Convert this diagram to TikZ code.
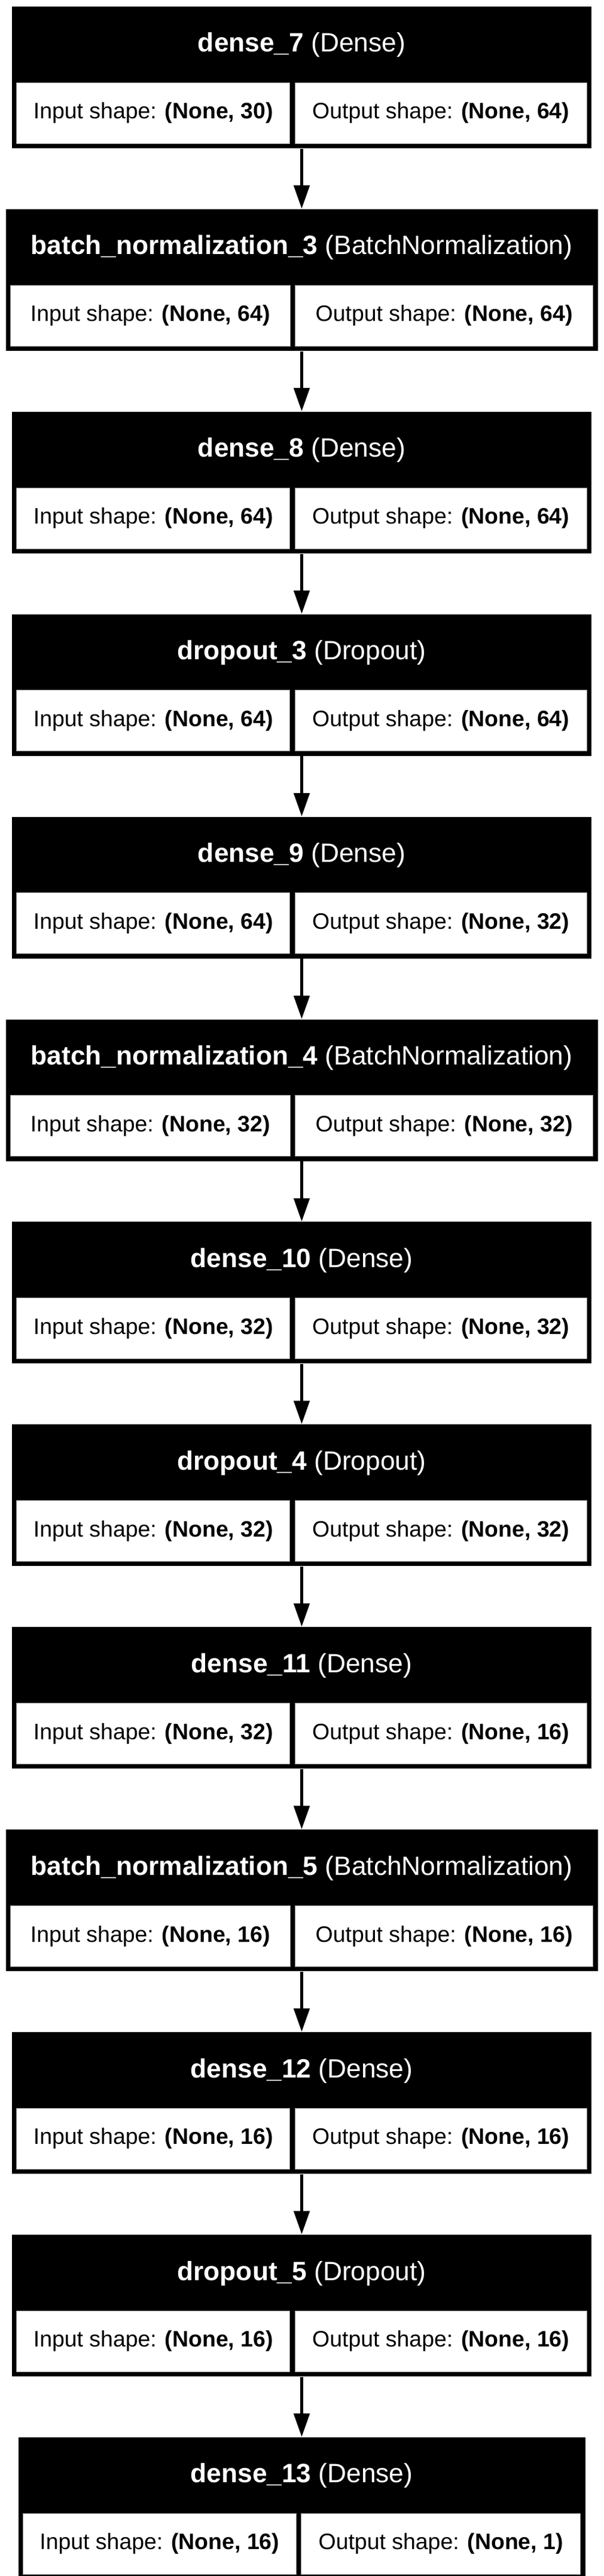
\documentclass[tikz,border=0pt]{standalone}
\usepackage{fontspec}
\setmainfont{Liberation Sans}
\usepackage{tikz}
\usetikzlibrary{positioning,arrows.meta,calc}
\tikzset{
    node distance=1.005cm,
    layer/.style = {
        fill=black,
        shape=rectangle,
        inner sep=0pt,
        minimum width=9.69cm,
        text height=0.76cm,
        text depth=1.61cm,
        text=white,
        font=\fontsize{12.6pt}{14pt}\selectfont
    },
    wide/.style = {
        minimum width=9.90cm
    },
    cell/.style = {
        fill=white,
        draw=black!45,
        line width=0.01cm,
        shape=rectangle,
        inner sep=0pt,
        minimum height=1.02cm,
        font=\fontsize{10.65pt}{12pt}\selectfont
    },
    flow/.style = {
        draw,
        ->,
        line width=0.05cm
    },
    >={Triangle[length=0.39cm,width=0.26cm]},
}

\begin{document}
\begin{tikzpicture}
            \useasboundingbox (0,0) rectangle (10.09,-43.10);

            \node[layer] (dense7) at (5.045,-1.295) {\textbf{dense\_7} (Dense)};
            \node[cell, minimum width=4.57cm, above right=0.08cm and 0.08cm of dense7.south west] (dense7in) {Input shape: \textbf{(None, 30)}};
            \node[cell, minimum width=4.88cm, above left=0.08cm and 0.08cm of dense7.south east] (dense7out) {Output shape: \textbf{(None, 64)}};

            \node[layer, wide, below=of dense7] (batchnorm3) {\textbf{batch\_normalization\_3} (BatchNormalization)};
            \node[cell, minimum width=4.68cm, above right=0.08cm and 0.08cm of batchnorm3.south west] (batchnorm3in) {Input shape: \textbf{(None, 64)}};
            \node[cell, minimum width=4.98cm, above left=0.08cm and 0.08cm of batchnorm3.south east] (batchnorm3out) {Output shape: \textbf{(None, 64)}};

            \node[layer, below=of batchnorm3] (dense8) {\textbf{dense\_8} (Dense)};
            \node[cell, minimum width=4.57cm, above right=0.08cm and 0.08cm of dense8.south west] (dense8in) {Input shape: \textbf{(None, 64)}};
            \node[cell, minimum width=4.88cm, above left=0.08cm and 0.08cm of dense8.south east] (dense8out) {Output shape: \textbf{(None, 64)}};

            \node[layer, below=of dense8] (dropout3) {\textbf{dropout\_3} (Dropout)};
            \node[cell, minimum width=4.57cm, above right=0.08cm and 0.08cm of dropout3.south west] (dropout3in) {Input shape: \textbf{(None, 64)}};
            \node[cell, minimum width=4.88cm, above left=0.08cm and 0.08cm of dropout3.south east] (dropout3out) {Output shape: \textbf{(None, 64)}};

            \node[layer, below=of dropout3] (dense9) {\textbf{dense\_9} (Dense)};
            \node[cell, minimum width=4.57cm, above right=0.08cm and 0.08cm of dense9.south west] (dense9in) {Input shape: \textbf{(None, 64)}};
            \node[cell, minimum width=4.88cm, above left=0.08cm and 0.08cm of dense9.south east] (dense9out) {Output shape: \textbf{(None, 32)}};

            \node[layer, wide, below=of dense9] (batchnorm4) {\textbf{batch\_normalization\_4} (BatchNormalization)};
            \node[cell, minimum width=4.68cm, above right=0.08cm and 0.08cm of batchnorm4.south west] (batchnorm4in) {Input shape: \textbf{(None, 32)}};
            \node[cell, minimum width=4.98cm, above left=0.08cm and 0.08cm of batchnorm4.south east] (batchnorm4out) {Output shape: \textbf{(None, 32)}};

            \node[layer, below=of batchnorm4] (dense10) {\textbf{dense\_10} (Dense)};
            \node[cell, minimum width=4.57cm, above right=0.08cm and 0.08cm of dense10.south west] (dense10in) {Input shape: \textbf{(None, 32)}};
            \node[cell, minimum width=4.88cm, above left=0.08cm and 0.08cm of dense10.south east] (dense10out) {Output shape: \textbf{(None, 32)}};

            \node[layer, below=of dense10] (dropout4) {\textbf{dropout\_4} (Dropout)};
            \node[cell, minimum width=4.57cm, above right=0.08cm and 0.08cm of dropout4.south west] (dropout4in) {Input shape: \textbf{(None, 32)}};
            \node[cell, minimum width=4.88cm, above left=0.08cm and 0.08cm of dropout4.south east] (dropout4out) {Output shape: \textbf{(None, 32)}};

            \node[layer, below=of dropout4] (dense11) {\textbf{dense\_11} (Dense)};
            \node[cell, minimum width=4.57cm, above right=0.08cm and 0.08cm of dense11.south west] (dense11in) {Input shape: \textbf{(None, 32)}};
            \node[cell, minimum width=4.88cm, above left=0.08cm and 0.08cm of dense11.south east] (dense11out) {Output shape: \textbf{(None, 16)}};

            \node[layer, wide, below=of dense11] (batchnorm5) {\textbf{batch\_normalization\_5} (BatchNormalization)};
            \node[cell, minimum width=4.68cm, above right=0.08cm and 0.08cm of batchnorm5.south west] (batchnorm5in) {Input shape: \textbf{(None, 16)}};
            \node[cell, minimum width=4.98cm, above left=0.08cm and 0.08cm of batchnorm5.south east] (batchnorm5out) {Output shape: \textbf{(None, 16)}};

            \node[layer, below=of batchnorm5] (dense12) {\textbf{dense\_12} (Dense)};
            \node[cell, minimum width=4.57cm, above right=0.08cm and 0.08cm of dense12.south west] (dense12in) {Input shape: \textbf{(None, 16)}};
            \node[cell, minimum width=4.88cm, above left=0.08cm and 0.08cm of dense12.south east] (dense12out) {Output shape: \textbf{(None, 16)}};

            \node[layer, below=of dense12] (dropout5) {\textbf{dropout\_5} (Dropout)};
            \node[cell, minimum width=4.57cm, above right=0.08cm and 0.08cm of dropout5.south west] (dropout5in) {Input shape: \textbf{(None, 16)}};
            \node[cell, minimum width=4.88cm, above left=0.08cm and 0.08cm of dropout5.south east] (dropout5out) {Output shape: \textbf{(None, 16)}};

            \node[layer, minimum width=9.48cm, below=of dropout5] (dense13) {\textbf{dense\_13} (Dense)};
            \node[cell, minimum width=4.57cm, above right=0.08cm and 0.08cm of dense13.south west] (dense13in) {Input shape: \textbf{(None, 16)}};
            \node[cell, minimum width=4.67cm, above left=0.08cm and 0.08cm of dense13.south east] (dense13out) {Output shape: \textbf{(None, 1)}};

            \path[flow] (dense7) -- (batchnorm3);
            \path[flow] (batchnorm3) -- (dense8);
            \path[flow] (dense8) -- (dropout3);
            \path[flow] (dropout3) -- (dense9);
            \path[flow] (dense9) -- (batchnorm4);
            \path[flow] (batchnorm4) -- (dense10);
            \path[flow] (dense10) -- (dropout4);
            \path[flow] (dropout4) -- (dense11);
            \path[flow] (dense11) -- (batchnorm5);
            \path[flow] (batchnorm5) -- (dense12);
            \path[flow] (dense12) -- (dropout5);
            \path[flow] (dropout5) -- (dense13);

        \end{tikzpicture}
\end{document}
